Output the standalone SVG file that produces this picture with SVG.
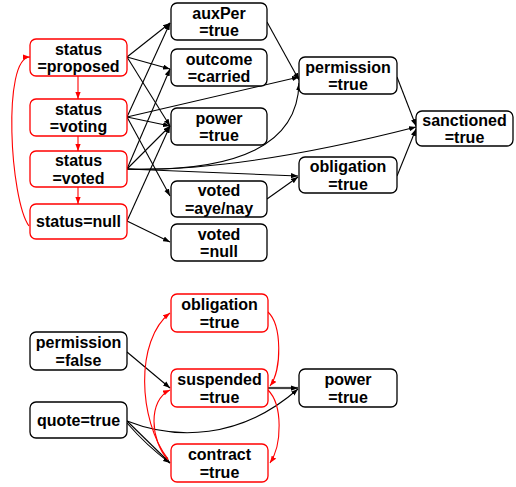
<svg xmlns="http://www.w3.org/2000/svg" width="516" height="487" viewBox="0 0 516 487">
  <style>
    .box { fill: #fff; stroke: #000; stroke-width: 1.3; }
    .red .box { stroke: #f00; }
    text { font-family: "Liberation Sans", Arial, sans-serif; font-weight: bold; font-size: 16px; fill: #000; text-anchor: middle; }
    .e { fill: none; stroke: #000; stroke-width: 1.1; marker-end: url(#ah); }
    .er { fill: none; stroke: #f00; stroke-width: 1.1; marker-end: url(#ahr); }
    .thick { stroke: #444; stroke-width: 2.2; }
  </style>
  <defs>
    <marker id="ah" viewBox="0 0 8 6" refX="8" refY="3" markerWidth="7" markerHeight="5.5" orient="auto" markerUnits="userSpaceOnUse">
      <path d="M0,0 L8,3 L0,6 z" fill="#000"/>
    </marker>
    <marker id="ahr" viewBox="0 0 8 6" refX="8" refY="3" markerWidth="7" markerHeight="5.5" orient="auto" markerUnits="userSpaceOnUse">
      <path d="M0,0 L8,3 L0,6 z" fill="#f00"/>
    </marker>
  </defs>

  <!-- connectors -->
  <g id="connectors">
    <!-- status chain -->
    <line class="er" x1="78" y1="76" x2="78" y2="99"/>
    <line class="er" x1="78" y1="136" x2="78" y2="151"/>
    <line class="er" x1="78" y1="187" x2="78" y2="204"/>
    <path class="er" d="M29,226 C10,200 2,57 30,57"/>

    <!-- status=proposed -->
    <line class="e" x1="127" y1="57" x2="170" y2="23"/>
    <line class="e" x1="127" y1="57" x2="170" y2="69"/>
    <line class="e" x1="127" y1="57" x2="170" y2="126"/>
    <!-- status=voting -->
    <line class="e" x1="127" y1="117" x2="170" y2="23"/>
    <line class="e" x1="127" y1="117" x2="170" y2="126"/>
    <line class="e" x1="127" y1="117" x2="170" y2="196"/>
    <line class="e" x1="127" y1="117" x2="299" y2="77"/>
    <!-- status=voted -->
    <line class="e" x1="127" y1="169" x2="170" y2="69"/>
    <line class="e" x1="127" y1="169" x2="170" y2="126"/>
    <path class="e" d="M127,169 Q297,174 299,83"/>
    <path class="e" d="M127,169 Q240,172 416,127"/>
    <line class="e" x1="127" y1="169" x2="298" y2="176"/>
    <!-- status=null -->
    <line class="e" x1="127" y1="221" x2="170" y2="126"/>
    <line class="e" x1="127" y1="221" x2="170" y2="242"/>

    <!-- right side -->
    <line class="e" x1="267" y1="22" x2="299" y2="80"/>
    <line class="e" x1="267" y1="199" x2="298" y2="177"/>
    <line class="e" x1="397" y1="77" x2="416" y2="126"/>
    <line class="e" x1="397" y1="176" x2="416" y2="129"/>

    <!-- lower diagram -->
    <line class="e" x1="127" y1="352" x2="170" y2="388"/>
    <line class="e" x1="127" y1="421" x2="170" y2="463"/>
    <path class="e" d="M127,423 Q147,446 170,463"/>
    <path class="e" d="M127,421 C175,440 240,440 298,389"/>
    <line class="e thick" x1="268" y1="388" x2="298" y2="388"/>

    <path class="er" d="M268,312 C282,325 282,370 270,386"/>
    <path class="er" d="M268,390 C283,405 282,445 270,463"/>
    <path class="er" d="M168,459 C138,420 135,340 170,313"/>
    <path class="er" d="M168,460 C150,440 148,400 170,390"/>
  </g>

  <!-- upper diagram nodes -->
  <g id="status-proposed" class="red">
    <rect class="box" x="30" y="39" width="97" height="37" rx="6"/>
    <text x="78.5" y="54.5">status</text>
    <text x="78.5" y="72">=proposed</text>
  </g>
  <g id="status-voting" class="red">
    <rect class="box" x="30" y="99" width="97" height="37" rx="6"/>
    <text x="78.5" y="114.5">status</text>
    <text x="78.5" y="132">=voting</text>
  </g>
  <g id="status-voted" class="red">
    <rect class="box" x="30" y="151" width="97" height="36" rx="6"/>
    <text x="78.5" y="166">status</text>
    <text x="78.5" y="183.5">=voted</text>
  </g>
  <g id="status-null" class="red">
    <rect class="box" x="30" y="204" width="97" height="35" rx="6"/>
    <text x="78.5" y="227">status=null</text>
  </g>

  <g id="auxPer-true">
    <rect class="box" x="171" y="3" width="96" height="37" rx="6"/>
    <text x="219" y="18.5">auxPer</text>
    <text x="219" y="36">=true</text>
  </g>
  <g id="outcome-carried">
    <rect class="box" x="171" y="49" width="96" height="37" rx="6"/>
    <text x="219" y="64.5">outcome</text>
    <text x="219" y="82">=carried</text>
  </g>
  <g id="power-true">
    <rect class="box" x="171" y="108" width="96" height="37" rx="6"/>
    <text x="219" y="123.5">power</text>
    <text x="219" y="141">=true</text>
  </g>
  <g id="voted-ayenay">
    <rect class="box" x="171" y="181" width="96" height="36" rx="6"/>
    <text x="219" y="196">voted</text>
    <text x="219" y="213.5">=aye/nay</text>
  </g>
  <g id="voted-null">
    <rect class="box" x="171" y="224" width="96" height="37" rx="6"/>
    <text x="219" y="239.5">voted</text>
    <text x="219" y="257">=null</text>
  </g>

  <g id="permission-true">
    <rect class="box" x="299" y="57" width="98" height="37" rx="6"/>
    <text x="348" y="72.5">permission</text>
    <text x="348" y="90">=true</text>
  </g>
  <g id="obligation-true">
    <rect class="box" x="299" y="157" width="98" height="36" rx="6"/>
    <text x="348" y="172">obligation</text>
    <text x="348" y="189.5">=true</text>
  </g>
  <g id="sanctioned-true">
    <rect class="box" x="416" y="111" width="97" height="35" rx="6"/>
    <text x="464.5" y="125.5">sanctioned</text>
    <text x="464.5" y="142.5">=true</text>
  </g>

  <!-- lower diagram nodes -->
  <g id="obligation-true-2" class="red">
    <rect class="box" x="171" y="294" width="97" height="38" rx="6"/>
    <text x="219.5" y="310">obligation</text>
    <text x="219.5" y="328">=true</text>
  </g>
  <g id="permission-false">
    <rect class="box" x="30" y="332" width="97" height="38" rx="6"/>
    <text x="78.5" y="348">permission</text>
    <text x="78.5" y="366">=false</text>
  </g>
  <g id="suspended-true" class="red">
    <rect class="box" x="171" y="369" width="97" height="38" rx="6"/>
    <text x="219.5" y="385">suspended</text>
    <text x="219.5" y="403">=true</text>
  </g>
  <g id="power-true-2">
    <rect class="box" x="299" y="369" width="98" height="38" rx="6"/>
    <text x="348" y="385">power</text>
    <text x="348" y="403">=true</text>
  </g>
  <g id="quote-true">
    <rect class="box" x="30" y="402" width="97" height="36" rx="6"/>
    <text x="78.5" y="426">quote=true</text>
  </g>
  <g id="contract-true" class="red">
    <rect class="box" x="171" y="444" width="97" height="38" rx="6"/>
    <text x="219.5" y="460">contract</text>
    <text x="219.5" y="478">=true</text>
  </g>
</svg>
